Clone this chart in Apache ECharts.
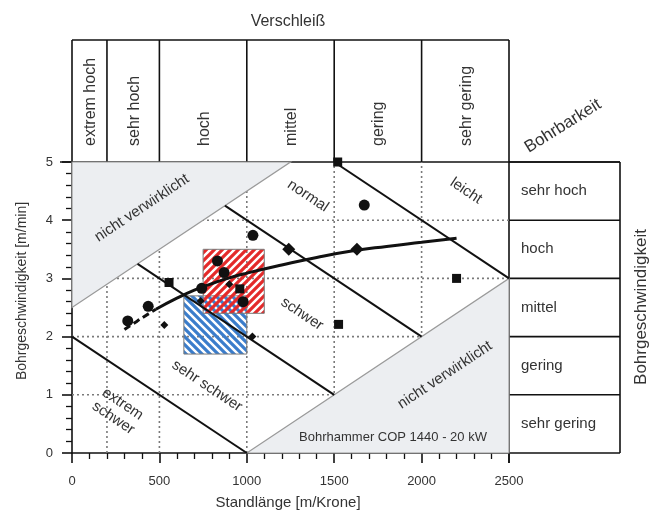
<!DOCTYPE html>
<html><head><meta charset="utf-8">
<script src="https://cdn.jsdelivr.net/npm/echarts@6/dist/echarts.min.js"></script>
<style>html,body{margin:0;padding:0;background:#fff}#c{width:650px;height:513px}</style>
</head><body><div id="c"></div>
<script>
// ---- data ----
const xTicks = [0, 500, 1000, 1500, 2000, 2500];
const yTicks = [0, 1, 2, 3, 4, 5];
const wearClasses = ['extrem hoch', 'sehr hoch', 'hoch', 'mittel', 'gering', 'sehr gering'];
const wearBounds = [0, 200, 500, 1000, 1500, 2000, 2500];
const speedClasses = ['sehr hoch', 'hoch', 'mittel', 'gering', 'sehr gering'];
const speedBounds = [5, 4, 3, 2, 1, 0];
const circles = [[319, 2.27], [436, 2.52], [742, 2.83], [832, 3.30], [870, 3.10], [979, 2.60], [1035, 3.74], [1672, 4.26]];
const squares = [[555, 2.93], [960, 2.82], [1520, 5.0], [1525, 2.21], [2200, 3.0]];
const bigDiamonds = [[1240, 3.5], [1630, 3.5]];
const smallDiamonds = [[528, 2.2], [736, 2.61], [900, 2.9], [1032, 2.0]];
const trendDashed = [[300, 2.12], [350, 2.22], [400, 2.32], [480, 2.47]];
const trendSolid = [[480, 2.47], [600, 2.66], [700, 2.80], [800, 2.91], [900, 3.01], [1000, 3.09], [1200, 3.23], [1400, 3.36], [1600, 3.47], [1800, 3.55], [2000, 3.62], [2200, 3.69]];
const redBox = [750, 1100, 2.4, 3.5];
const blueBox = [640, 1000, 1.7, 2.7];
const classLines = [[[0, 2], [1000, 0]], [[375, 3.25], [1500, 1]], [[875, 4.25], [2000, 2]], [[1500, 5], [2500, 3]]];
const grayAreas = [[[0, 2.5], [1250, 5], [0, 5]], [[1000, 0], [2500, 3], [2500, 0]]];
const gridX = [200, 500, 1000, 1500, 2000];
const gridY = [1, 2, 3, 4];

// ---- styling helpers ----
const FONT = '"Liberation Sans", Arial, sans-serif';
const TXT = '#333';

function stripePattern(color, dir) {
  const s = 8;
  const cv = document.createElement('canvas');
  cv.width = s; cv.height = s;
  const ctx = cv.getContext('2d');
  ctx.strokeStyle = color; ctx.lineWidth = 3.2; ctx.lineCap = 'square';
  ctx.beginPath();
  if (dir === '/') {
    ctx.moveTo(0, s); ctx.lineTo(s, 0);
    ctx.moveTo(-s / 2, s / 2); ctx.lineTo(s / 2, -s / 2);
    ctx.moveTo(s / 2, s * 1.5); ctx.lineTo(s * 1.5, s / 2);
  } else {
    ctx.moveTo(0, 0); ctx.lineTo(s, s);
    ctx.moveTo(-s / 2, s / 2); ctx.lineTo(s / 2, s * 1.5);
    ctx.moveTo(s / 2, -s / 2); ctx.lineTo(s * 1.5, s / 2);
  }
  ctx.stroke();
  return { image: cv, repeat: 'repeat' };
}
const redPat = stripePattern('#e42a2a', '/');
const bluePat = stripePattern('#3b7dcb', '\\');

function boxRender(box, pat) {
  return function (params, api) {
    const p0 = api.coord([box[0], box[3]]);
    const p1 = api.coord([box[1], box[2]]);
    return { type: 'rect', shape: { x: p0[0], y: p0[1], width: p1[0] - p0[0], height: p1[1] - p0[1] },
      style: { fill: pat, stroke: '#7a7a7a', lineWidth: 1 } };
  };
}

const chart = echarts.init(document.getElementById('c'), null, { renderer: 'canvas' });
const mk = { color: '#111', opacity: 1 };

const option = {
  animation: false,
  backgroundColor: '#fff',
  grid: { left: 72, right: 141, top: 162, bottom: 60 },
  xAxis: {
    type: 'value', min: xTicks[0], max: xTicks[xTicks.length - 1], interval: 500,
    axisLine: { lineStyle: { color: '#111', width: 1.6 } },
    axisTick: { length: 10, lineStyle: { color: '#111', width: 1.6 } },
    minorTick: { show: true, splitNumber: 5, length: 6, lineStyle: { color: '#111', width: 1.3 } },
    axisLabel: { margin: 22, fontSize: 13, color: '#333', fontFamily: FONT, formatter: v => String(v) },
    splitLine: { show: false }
  },
  yAxis: {
    type: 'value', min: yTicks[0], max: yTicks[yTicks.length - 1], interval: 1,
    axisLine: { show: true, lineStyle: { color: '#111', width: 1.6 } },
    axisTick: { show: true, length: 10, lineStyle: { color: '#111', width: 1.6 } },
    minorTick: { show: true, splitNumber: 5, length: 6, lineStyle: { color: '#111', width: 1.3 } },
    axisLabel: { margin: 19, fontSize: 13, color: '#333', fontFamily: FONT },
    splitLine: { show: false }
  },
  series: [
    { // dotted grid
      type: 'custom', z: 1, silent: true, data: [[0, 0]],
      renderItem: (params, api) => {
        const ch = [];
        gridX.forEach(v => {
          const a = api.coord([v, 0]), b = api.coord([v, 5]);
          ch.push({ type: 'line', shape: { x1: a[0], y1: a[1], x2: b[0], y2: b[1] }, style: { stroke: '#7a7a7a', lineWidth: 1.6, lineDash: [2, 3] } });
        });
        gridY.forEach(v => {
          const a = api.coord([0, v]), b = api.coord([2500, v]);
          ch.push({ type: 'line', shape: { x1: a[0], y1: a[1], x2: b[0], y2: b[1] }, style: { stroke: '#7a7a7a', lineWidth: 1.6, lineDash: [2, 3] } });
        });
        return { type: 'group', children: ch };
      }
    },
    { // gray not realised areas
      type: 'custom', z: 2, silent: true, data: grayAreas.map((a, i) => [i, 0]),
      renderItem: (params, api) => ({
        type: 'polygon', shape: { points: grayAreas[params.dataIndex].map(p => api.coord(p)) },
        style: { fill: '#eceef1', stroke: '#9a9a9a', lineWidth: 1.2 }
      })
    },
    { type: 'custom', z: 3, silent: true, data: [[blueBox[0], blueBox[2]]], renderItem: boxRender(blueBox, bluePat) },
    { type: 'custom', z: 3, silent: true, data: [[redBox[0], redBox[2]]], renderItem: boxRender(redBox, redPat) },
    { // class boundary lines
      type: 'custom', z: 4, silent: true, data: classLines.map((l, i) => [i, 0]),
      renderItem: (params, api) => {
        const l = classLines[params.dataIndex];
        const a = api.coord(l[0]), b = api.coord(l[1]);
        return { type: 'line', shape: { x1: a[0], y1: a[1], x2: b[0], y2: b[1] }, style: { stroke: '#111', lineWidth: 2 } };
      }
    },
    { type: 'line', z: 5, data: trendDashed, smooth: true, symbol: 'none', lineStyle: { color: '#111', width: 3, type: [7, 4] } },
    { type: 'line', z: 5, data: trendSolid, smooth: true, symbol: 'none', lineStyle: { color: '#111', width: 3 } },
    { type: 'scatter', z: 6, data: circles, symbol: 'circle', symbolSize: 11, itemStyle: mk },
    { type: 'scatter', z: 6, data: squares, symbol: 'rect', symbolSize: 9, itemStyle: mk },
    { type: 'scatter', z: 6, data: bigDiamonds, symbol: 'diamond', symbolSize: 13, itemStyle: mk },
    { type: 'scatter', z: 6, data: smallDiamonds, symbol: 'diamond', symbolSize: 8, itemStyle: mk }
  ]
};
chart.setOption(option);

// ---- tables & texts positioned through the axes ----
const P = (x, y) => chart.convertToPixel({ gridIndex: 0 }, [x, y]);
const g = [];
const LS = { stroke: '#111', lineWidth: 1.6 };
const topY = 40;
const tableRight = 620;
const x0 = P(0, 5), x1 = P(2500, 5), y0 = P(2500, 0);
// top table
g.push({ type: 'line', shape: { x1: x0[0], y1: topY, x2: x1[0], y2: topY }, style: LS });
g.push({ type: 'line', shape: { x1: x0[0] - 12, y1: x0[1], x2: tableRight, y2: x0[1] }, style: LS });
wearBounds.forEach(b => {
  const p = P(b, 5);
  g.push({ type: 'line', shape: { x1: p[0], y1: topY, x2: p[0], y2: p[1] }, style: LS });
});
wearClasses.forEach((t, i) => {
  const a = P(wearBounds[i], 5), b = P(wearBounds[i + 1], 5);
  g.push({ type: 'text', x: (a[0] + b[0]) / 2 + 1, y: 146, rotation: Math.PI / 2,
    style: { text: t, fontSize: 16, fontFamily: FONT, fill: TXT, align: 'left', verticalAlign: 'middle' } });
});
// right border of plot
g.push({ type: 'line', shape: { x1: x1[0], y1: x1[1], x2: x1[0], y2: y0[1] + 10 }, style: LS });
// right table
g.push({ type: 'line', shape: { x1: tableRight, y1: x1[1], x2: tableRight, y2: y0[1] }, style: LS });
speedBounds.forEach(b => {
  const p = P(2500, b);
  g.push({ type: 'line', shape: { x1: p[0], y1: p[1], x2: tableRight, y2: p[1] }, style: LS });
});
speedClasses.forEach((t, i) => {
  const a = P(2500, speedBounds[i]), b = P(2500, speedBounds[i + 1]);
  g.push({ type: 'text', x: a[0] + 12, y: (a[1] + b[1]) / 2, style: { text: t, fontSize: 15, fontFamily: FONT, fill: TXT, align: 'left', verticalAlign: 'middle' } });
});
// titles
g.push({ type: 'text', x: 288, y: 22, style: { text: 'Verschleiß', fontSize: 16, fontFamily: FONT, fill: TXT, align: 'center', verticalAlign: 'middle' } });
g.push({ type: 'text', x: 563, y: 126, rotation: 0.56, style: { text: 'Bohrbarkeit', fontSize: 17, fontFamily: FONT, fill: TXT, align: 'center', verticalAlign: 'middle' } });
g.push({ type: 'text', x: 641, y: 307, rotation: Math.PI / 2, style: { text: 'Bohrgeschwindigkeit', fontSize: 17, fontFamily: FONT, fill: TXT, align: 'center', verticalAlign: 'middle' } });
g.push({ type: 'text', x: 22, y: 291, rotation: Math.PI / 2, style: { text: 'Bohrgeschwindigkeit [m/min]', fontSize: 14, fontFamily: FONT, fill: TXT, align: 'center', verticalAlign: 'middle' } });
g.push({ type: 'text', x: 288, y: 503, style: { text: 'Standlänge [m/Krone]', fontSize: 15, fontFamily: FONT, fill: TXT, align: 'center', verticalAlign: 'middle' } });
// region labels
const ang = Math.atan((0.002 * (y0[1] - x1[1]) / 5) / ((x1[0] - x0[0]) / 2500));
const lab = (x, y, t, r, fs) => g.push({ type: 'text', x: x, y: y, rotation: r, z: 10,
  style: { text: t, fontSize: fs || 15, fontFamily: FONT, fill: TXT, align: 'center', verticalAlign: 'middle', lineHeight: 17 } });
lab(142, 208, 'nicht verwirklicht', ang);
lab(308, 196, 'normal', -ang);
lab(466, 191, 'leicht', -ang);
lab(302, 314, 'schwer', -ang);
lab(207, 386, 'sehr schwer', -ang);
lab(118, 411, 'extrem\nschwer', -ang);
lab(445, 375, 'nicht verwirklicht', ang);
lab(393, 437, 'Bohrhammer COP 1440 - 20 kW', 0, 13);

chart.setOption({ graphic: g });
</script>
</body></html>
